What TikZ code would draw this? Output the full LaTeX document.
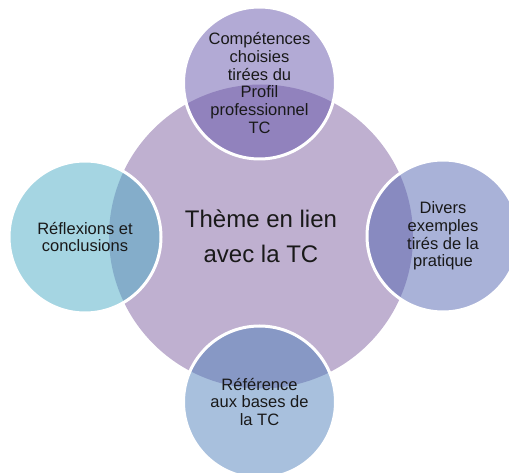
\documentclass[tikz,border=0pt]{standalone}
\usepackage{fontspec}
\setmainfont{Liberation Sans}
\usetikzlibrary{positioning}
\definecolor{themefill}{RGB}{191,176,208}
\definecolor{skillsfill}{RGB}{101,85,171}
\definecolor{practicefill}{RGB}{83,101,177}
\definecolor{basesfill}{RGB}{81,129,187}
\definecolor{reflectfill}{RGB}{75,171,197}
\tikzset{
	cycle diagram/.style={x=1pt,y=-1pt},
	theme circle/.style={circle,fill=themefill,minimum size=304pt,
		inner sep=0pt,outer sep=0pt,align=center,text=black!90,
		font=\fontsize{24}{35}\selectfont},
	part circle/.style={circle,fill=#1,fill opacity=.5,text opacity=1,
		draw=white,line width=3pt,minimum size=152pt,
		inner sep=0pt,outer sep=0pt,align=center,text=black!90,
		font=\fontsize{16.5}{17.7}\selectfont}
}

\begin{document}
\begin{tikzpicture}[cycle diagram]
	\useasboundingbox (0,0) rectangle (509,473);
	\clip (0,0) rectangle (509,473);
	\node[theme circle] (theme) at (261,236.5) {Thème en lien\\avec la TC};
	\node[part circle=skillsfill] (skills) at (259.5,83)
		{Compétences\\choisies\\tirées du\\Profil\\professionnel\\TC};
	\node[part circle=practicefill] (practice) at (443,236)
		{Divers\\exemples\\tirés de la\\pratique};
	\node[part circle=basesfill] (bases) at (259.5,402)
		{Référence\\aux bases de\\la TC};
	\node[part circle=reflectfill] (reflect) at (85,237)
		{Réflexions et\\conclusions};
\end{tikzpicture}
\end{document}
